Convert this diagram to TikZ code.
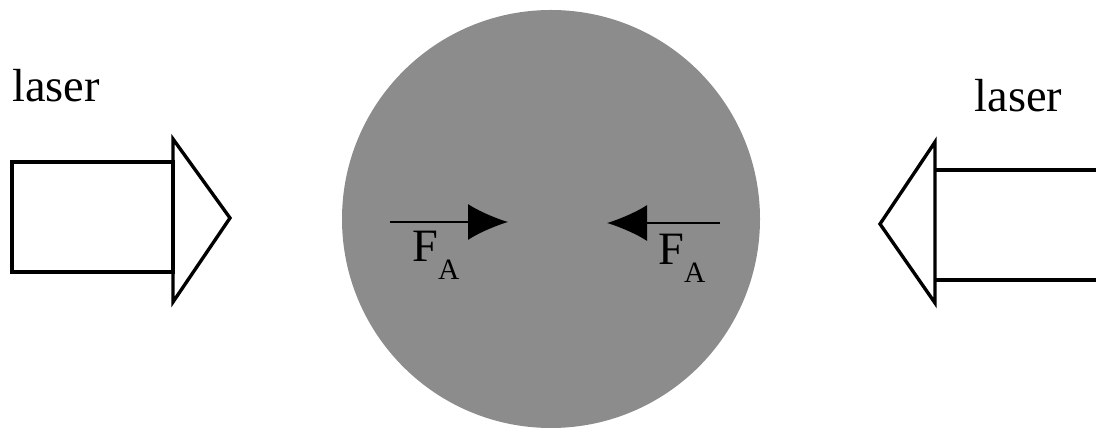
\documentclass[tikz,border=0pt]{standalone}
\usepackage{fontspec}
\setmainfont{Liberation Serif}
\usetikzlibrary{arrows.meta}
\definecolor{dotgray}{gray}{0.55}
\begin{document}
\begin{tikzpicture}[every node/.style={inner sep=0}, beam/.style={draw, line width=2.4pt, line join=miter}, force/.style={-{Latex[length=1cm,width=0.9cm]}, line width=1.4pt}, lbl/.style={font=\fontsize{33}{33}\selectfont}]
		\useasboundingbox (0,0) rectangle (27.4,10.775);
		\node (drop) [circle, fill=dotgray, minimum size=10.45cm] at (13.775, 5.30) {};
		\node (las1) [lbl, anchor=base] at (1.40, 8.225) {laser};
		\node (las2) [lbl, anchor=base] at (25.46, 7.975) {laser};
		\draw[beam] (0.30, 3.975) rectangle (4.325, 6.725);
		\draw[beam] (4.325, 7.30) -- (5.75, 5.325) -- (4.325, 3.225) -- cycle;
		\draw[beam] (27.45, 6.525) -- (23.375, 6.525) (23.375, 3.775) -- (27.45, 3.775);
		\draw[beam] (23.375, 7.225) -- (22.00, 5.175) -- (23.375, 3.20) -- cycle;
		\coordinate (f1s) at (9.75, 5.225);
		\coordinate (f1e) at (12.70, 5.225);
		\coordinate (f2s) at (18.00, 5.20);
		\coordinate (f2e) at (15.175, 5.20);
		\draw[force] (f1s) -- (f1e);
		\draw[force] (f2s) -- (f2e);
		\node (fa1) [lbl, anchor=base west] at (10.30, 4.225) {F\raisebox{-0.45cm}{\fontsize{21}{21}\selectfont A}};
		\node (fa2) [lbl, anchor=base west] at (16.45, 4.15) {F\raisebox{-0.45cm}{\fontsize{21}{21}\selectfont A}};
	\end{tikzpicture}
\end{document}
